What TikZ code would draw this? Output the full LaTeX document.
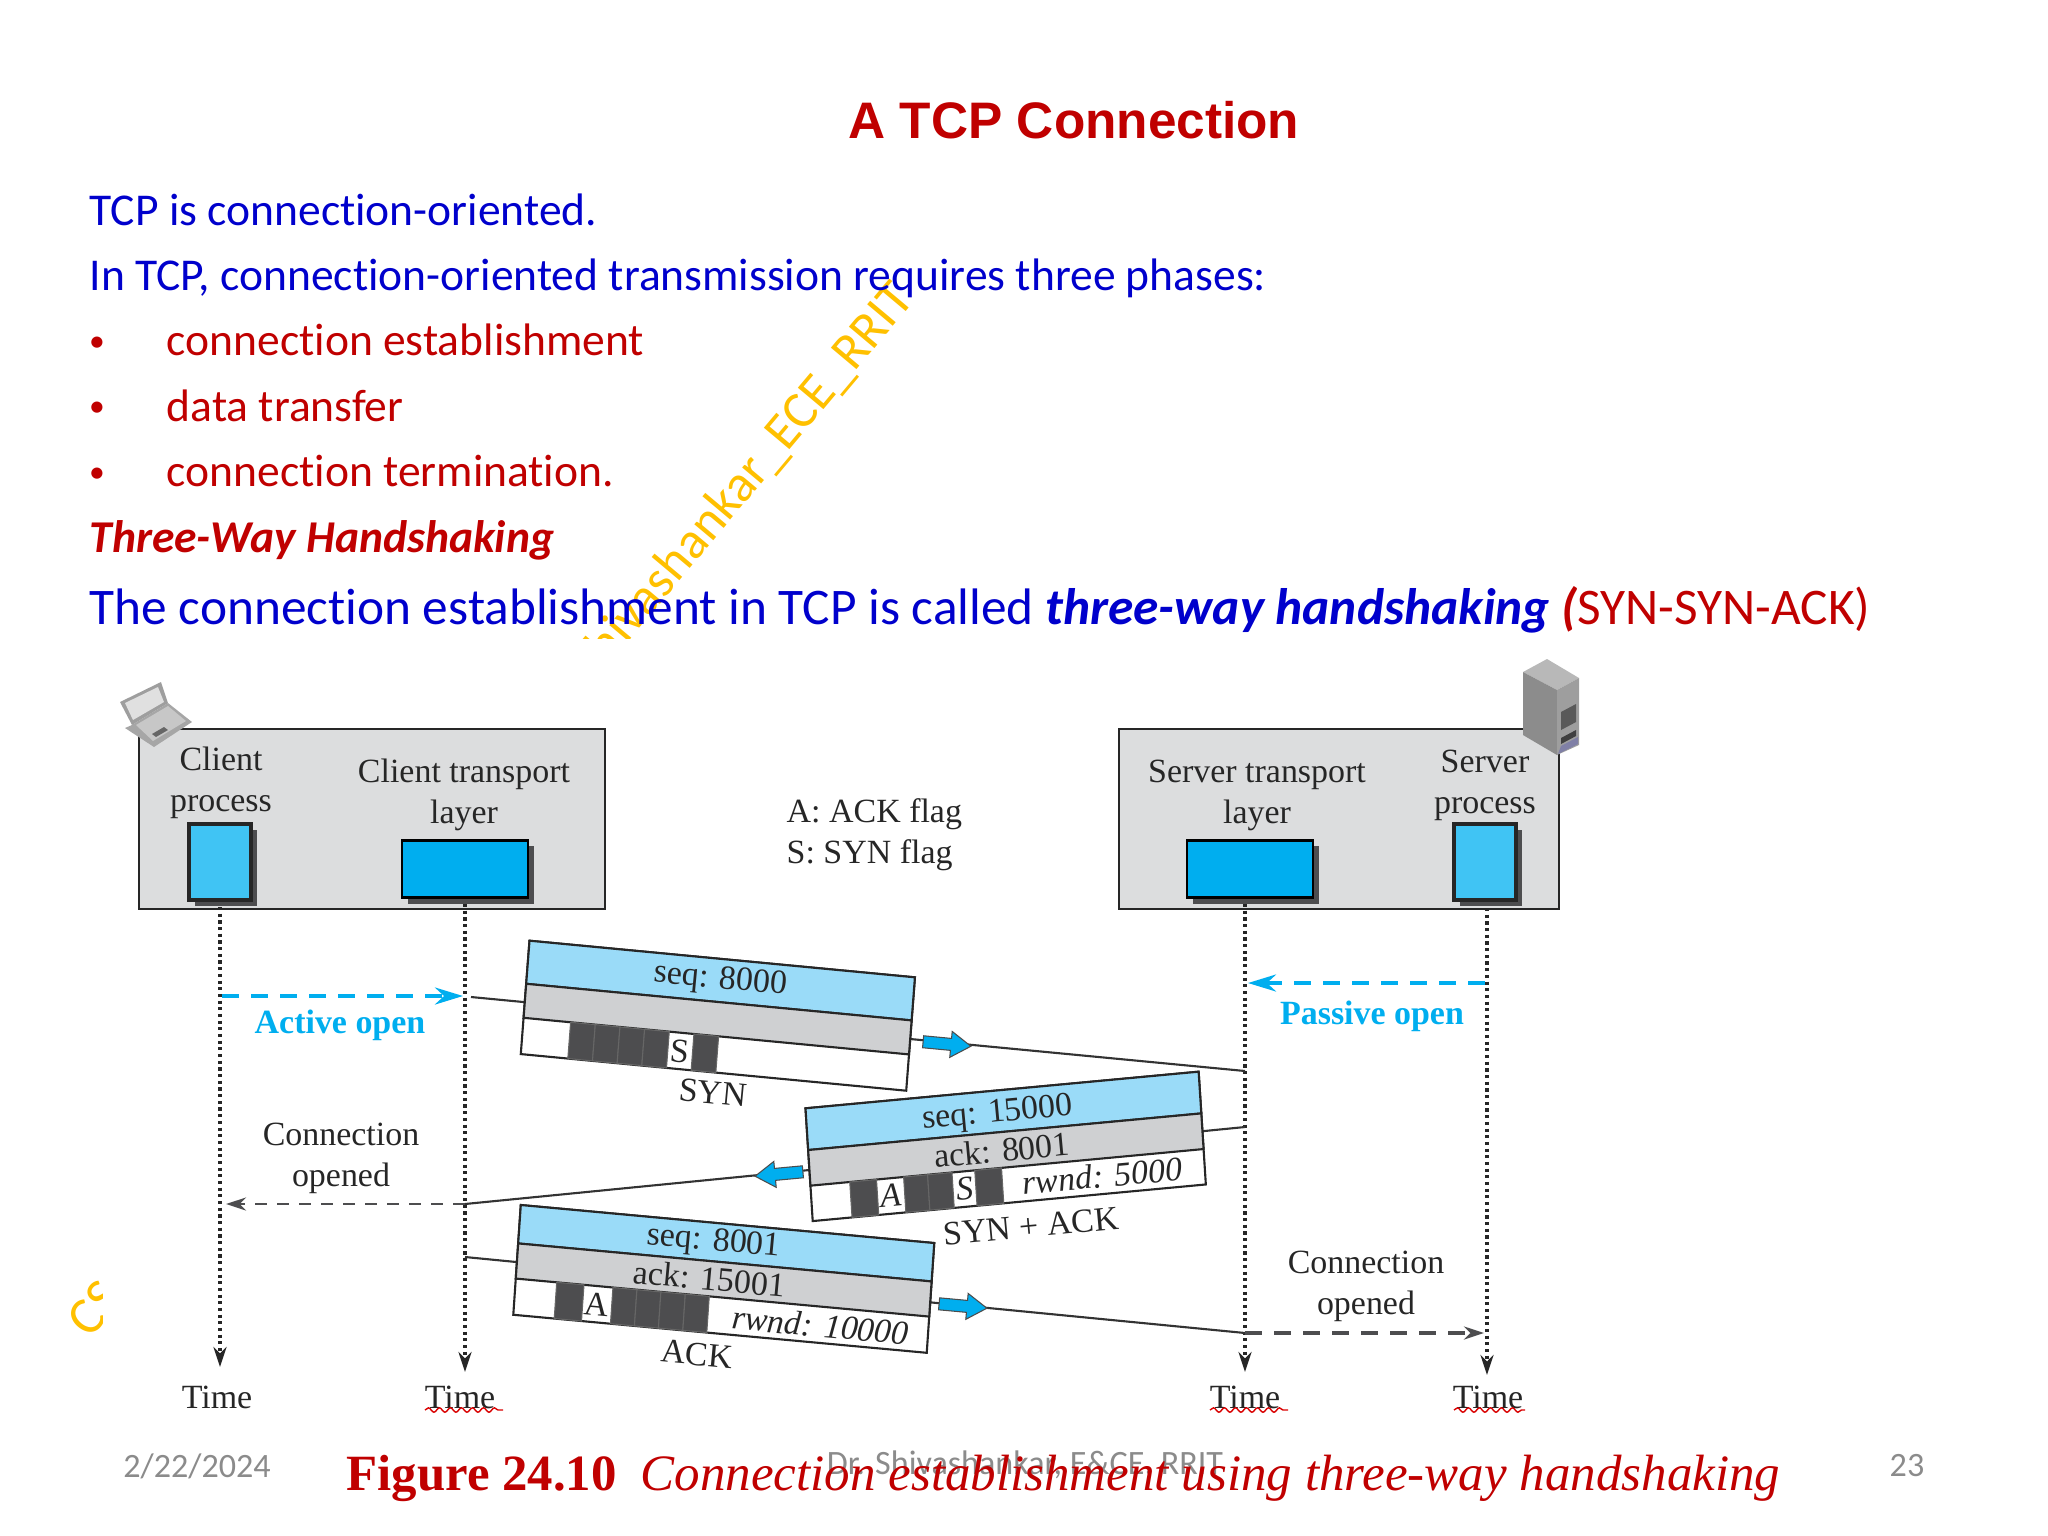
\documentclass[tikz,border=0pt]{standalone}
\usepackage{fontspec}
\setmainfont{Carlito}[Ligatures=CommonOff]
\newfontfamily\figfont{Liberation Serif}
\newfontfamily\headfont{Liberation Sans}
\usetikzlibrary{arrows.meta}
\usetikzlibrary{shadows}
\usetikzlibrary{decorations.pathmorphing}
\definecolor{slideblue}{HTML}{0000CC}
\definecolor{slidered}{HTML}{C00000}
\definecolor{wmgold}{HTML}{FFC000}
\definecolor{boxgray}{HTML}{DCDDDE}
\definecolor{rowgray}{HTML}{CFD0D2}
\definecolor{rowblue}{HTML}{9ADBF8}
\definecolor{flagdark}{HTML}{4D4D4F}
\definecolor{cyanfill}{HTML}{00AEEF}
\definecolor{procfill}{HTML}{40C4F4}
\definecolor{footgray}{HTML}{8B8B8B}
\tikzset{
  bodytext/.style={anchor=base west,inner sep=0pt,font=\fontsize{12.95}{15}\selectfont},
  bullettext/.style={anchor=base,inner sep=0pt,text=slidered,font=\fontsize{9}{10}\selectfont},
  figtext/.style={inner sep=0pt,align=center,font=\figfont\fontsize{9.65}{11.7}\selectfont,text=black!85},
  segtext/.style={inner sep=0pt,font=\figfont\fontsize{9.65}{11}\selectfont,text=black!85},
  opentext/.style={inner sep=0pt,font=\figfont\bfseries\fontsize{9.65}{11}\selectfont,text=cyanfill},
  foottext/.style={inner sep=0pt,font=\fontsize{9.7}{11}\selectfont,text=footgray},
  hostbox/.style={draw=black!85,line width=.8pt,fill=boxgray},
  layerbox/.style={draw=black,line width=.6pt,fill=cyanfill,inner sep=0pt,minimum width=1.26cm,minimum height=.57cm,
    drop shadow={shadow xshift=.06cm,shadow yshift=-.06cm,fill=flagdark,opacity=1}},
  procbox/.style={draw=black!85,line width=1.1pt,fill=procfill,inner sep=0pt,minimum width=.62cm,minimum height=.76cm,
    drop shadow={shadow xshift=.06cm,shadow yshift=-.06cm,fill=flagdark,opacity=1}},
  lifeline/.style={densely dotted,line width=.9pt,black!85,-{Stealth[length=.2cm,width=.13cm]}},
  openarrow/.style={cyanfill,line width=1.1pt,dash pattern=on .17cm off .12cm,-{Stealth[length=.28cm,width=.17cm]}},
  donearrow/.style={flagdark,line width=1.1pt,dash pattern=on .17cm off .12cm,-{Stealth[length=.2cm,width=.13cm]}},
  segline/.style={line width=.6pt,black!80},
  segframe/.style={draw=black!85,line width=.6pt},
  flagcell/.style={fill=flagdark,draw=black!60,line width=.3pt},
  blockarrow/.pic={\filldraw[draw=black!70,line width=.3pt,fill=cyanfill] (-24,-6) -- (4,-6) -- (4,-13) -- (24,0) -- (4,13) -- (4,6) -- (-24,6) -- cycle;},
  squiggle/.style={red!85!black,line width=.4pt,decorate,decoration={snake,amplitude=.022cm,segment length=.11cm}}
}
\begin{document}
\begin{tikzpicture}[x=.01cm,y=-.01cm]
\useasboundingbox (0,0) rectangle (2048,1536);
% watermark
\begin{scope}
\clip (500,275) rectangle (1000,638);
\node[inner sep=0pt,rotate=50,anchor=east,text=wmgold,font=\fontsize{14.8}{18}\selectfont] (wmark) at (905,290) {Dr. Shivashankar\_ECE\_RRIT};
\end{scope}
\begin{scope}
\clip (50,1270) rectangle (102,1350);
\node[inner sep=0pt,rotate=50,anchor=west,text=wmgold,font=\fontsize{15}{18}\selectfont] (wmarkb) at (77,1329) {CS};
\end{scope}
% heading and text
\node[inner sep=0pt,text=slidered,font=\headfont\bfseries\fontsize{14.6}{16}\selectfont] (title) at (1074,120) {A TCP Connection};
\node[bodytext,text=slideblue] (lineone) at (89,225) {TCP is connection-oriented.};
\node[bodytext,text=slideblue] (linetwo) at (89,290) {In TCP, connection-oriented transmission requires three phases:};
\node[bullettext] (bulla) at (97,351) {•};
\node[bodytext,text=slidered] (phasea) at (166,355) {connection establishment};
\node[bullettext] (bullb) at (97,416) {•};
\node[bodytext,text=slidered] (phaseb) at (166,421) {data transfer};
\node[bullettext] (bullc) at (97,482) {•};
\node[bodytext,text=slidered] (phasec) at (166,486) {connection termination.};
\node[bodytext,text=slidered] (hand) at (89,552) {\bfseries\itshape Three-Way Handshaking};
\node[anchor=base west,inner sep=0pt,text=slideblue,font=\fontsize{14.6}{16}\selectfont] (lastline) at (89,624)
  {The connection establishment in TCP is called \textbf{\textit{three-way handshaking}} \textcolor{slidered}{\textbf{\textit{(}}SYN-SYN-ACK)}};
% client and server boxes
\draw[hostbox] (139,729) rectangle (605,909);
\draw[hostbox] (1119,729) rectangle (1559,909);
\node[procbox] (clientproc) at (220,862) {};
\node[layerbox] (clientlayer) at (465,869) {};
\node[layerbox] (serverlayer) at (1250,869) {};
\node[procbox] (serverproc) at (1485,862) {};
\node[figtext] (clientproclabel) at (221,783) {Client\\process};
\node[figtext] (clientlayerlabel) at (464,795) {Client transport\\layer};
\node[figtext] (serverlayerlabel) at (1257,795) {Server transport\\layer};
\node[figtext] (serverproclabel) at (1485,785) {Server\\process};
\node[figtext,align=left,anchor=west] (flagkey) at (786,835) {A: ACK flag\\S: SYN flag};
% laptop
\fill[black!35] (132,725) -- (168,703) -- (192,722) -- (154,747) -- (125,728) -- cycle;
\fill[black!22] (136,725) -- (168,706) -- (186,721) -- (153,741) -- cycle;
\fill[black!60] (152,734) -- (164,727) -- (168,730) -- (156,737) -- cycle;
\fill[black!38] (120,702) -- (161,682) -- (168,703) -- (132,725) -- cycle;
\fill[black!12] (125,703) -- (158,687) -- (164,702) -- (133,720) -- cycle;
% server
\fill[black!28] (1523,672) -- (1547,659) -- (1579,678) -- (1557,690) -- cycle;
\fill[black!45] (1523,672) -- (1557,690) -- (1557,755) -- (1523,735) -- cycle;
\fill[black!38] (1557,690) -- (1579,678) -- (1579,745) -- (1557,755) -- cycle;
\fill[black!65] (1561,712) -- (1576,704) -- (1576,722) -- (1561,730) -- cycle;
\fill[black!75] (1561,738) -- (1576,730) -- (1576,736) -- (1561,744) -- cycle;
\fill[blue!30!black!50] (1561,746) -- (1578,737) -- (1578,744) -- (1558,754) -- cycle;
% life lines
\coordinate (clientend) at (220,1367);
\coordinate (clientlayerend) at (465,1372);
\coordinate (serverlayerend) at (1245,1372);
\coordinate (serverend) at (1487,1375);
\draw[lifeline] (220,907) -- (clientend);
\draw[lifeline] (465,904) -- (clientlayerend);
\draw[lifeline] (1245,904) -- (serverlayerend);
\draw[lifeline] (1487,908) -- (serverend);
% open arrows
\coordinate (activea) at (222,996);
\coordinate (activeb) at (463,996);
\coordinate (passivea) at (1485,983);
\coordinate (passiveb) at (1248,983);
\draw[openarrow] (activea) -- (activeb);
\draw[openarrow] (passivea) -- (passiveb);
\node[opentext] (activelabel) at (340,1025) {Active open};
\node[opentext] (passivelabel) at (1372,1016) {Passive open};
% SYN
\coordinate (syna) at (471,997);
\coordinate (synb) at (1245,1071);
\draw[segline] (syna) -- (synb);
\begin{scope}[shift={(529.5,940.7)},x={(3.852cm,-.366cm)},y={(-.087cm,-1.133cm)}]
\filldraw[segframe,fill=white] (0,0) -- (1,0) -- (1,1) -- (0,1) -- cycle;
\filldraw[segframe,fill=rowblue] (0,0) -- (1,0) -- (1,.38) -- (0,.38) -- cycle;
\filldraw[segframe,fill=rowgray] (0,.38) -- (1,.38) -- (1,.68) -- (0,.68) -- cycle;
\foreach \i/\j in {.122/.186,.186/.25,.25/.314,.314/.378,.442/.506}
  \draw[flagcell] (\i,.68) -- (\j,.68) -- (\j,1) -- (\i,1) -- cycle;
\node[segtext,rotate=-5.4] (synseq) at (.5,.19) {seq: 8000};
\node[segtext,rotate=-5.4] (synflag) at (.41,.84) {S};
\end{scope}
\node[segtext,rotate=-5.4] (synlabel) at (713,1093) {SYN};
\pic[rotate=-5.4] (synarrow) at (947,1044) {blockarrow};
% SYN + ACK
\coordinate (synacka) at (1245,1127);
\coordinate (synackb) at (465,1204);
\draw[segline] (synacka) -- (synackb);
\begin{scope}[shift={(805.5,1108.3)},x={(3.929cm,.366cm)},y={(.072cm,-1.127cm)}]
\filldraw[segframe,fill=white] (0,0) -- (1,0) -- (1,1) -- (0,1) -- cycle;
\filldraw[segframe,fill=rowblue] (0,0) -- (1,0) -- (1,.37) -- (0,.37) -- cycle;
\filldraw[segframe,fill=rowgray] (0,.37) -- (1,.37) -- (1,.686) -- (0,.686) -- cycle;
\foreach \i/\j in {.10/.168,.237/.298,.298/.36,.418/.486}
  \draw[flagcell] (\i,.686) -- (\j,.686) -- (\j,1) -- (\i,1) -- cycle;
\node[segtext,rotate=5.3] (ackseq) at (.485,.21) {seq: 15000};
\node[segtext,rotate=5.3] (ackack) at (.49,.53) {ack: 8001};
\node[segtext,rotate=5.3] (ackflaga) at (.202,.84) {\itshape A};
\node[segtext,rotate=5.3] (ackflagb) at (.389,.84) {\itshape S};
\node[segtext,rotate=5.3] (ackwnd) at (.74,.84) {\itshape rwnd: 5000};
\end{scope}
\node[segtext,rotate=5.3] (synacklabel) at (1031,1226) {SYN + ACK};
\pic[rotate=185.3] (synackarrow) at (779,1174) {blockarrow};
\draw[donearrow,line width=.8pt,dash pattern=on .12cm off .1cm] (synackb) -- (226,1204);
\node[figtext] (openleft) at (341,1158) {Connection\\opened};
% ACK
\coordinate (acka) at (465,1257);
\coordinate (ackb) at (1245,1333);
\draw[segline] (acka) -- (ackb);
\begin{scope}[shift={(520.8,1205)},x={(4.132cm,-.38cm)},y={(-.075cm,-1.097cm)}]
\filldraw[segframe,fill=white] (0,0) -- (1,0) -- (1,1) -- (0,1) -- cycle;
\filldraw[segframe,fill=rowblue] (0,0) -- (1,0) -- (1,.35) -- (0,.35) -- cycle;
\filldraw[segframe,fill=rowgray] (0,.35) -- (1,.35) -- (1,.67) -- (0,.67) -- cycle;
\foreach \i/\j in {.099/.165,.235/.293,.293/.351,.351/.41,.41/.468}
  \draw[flagcell] (\i,.67) -- (\j,.67) -- (\j,1) -- (\i,1) -- cycle;
\node[segtext,rotate=-5.25] (finseq) at (.47,.18) {seq: 8001};
\node[segtext,rotate=-5.25] (finack) at (.465,.51) {ack: 15001};
\node[segtext,rotate=-5.25] (finflag) at (.2,.84) {A};
\node[segtext,rotate=-5.25] (finwnd) at (.74,.84) {\itshape rwnd: 10000};
\end{scope}
\node[segtext,rotate=-5.25] (acklabel) at (697,1354) {ACK};
\pic[rotate=-5.25] (ackarrow) at (963,1306) {blockarrow};
\draw[donearrow] (ackb) -- (1484,1333);
\node[figtext] (openright) at (1366,1286) {Connection\\opened};
% time labels
\node[segtext] (timea) at (217,1397) {Time};
\node[segtext] (timeb) at (460,1397) {Time};
\node[segtext] (timec) at (1245,1397) {Time};
\node[segtext] (timed) at (1488,1397) {Time};
\coordinate (wavya) at (425,1410);
\coordinate (wavyb) at (503,1410);
\coordinate (wavyc) at (1210,1410);
\coordinate (wavyd) at (1288,1410);
\coordinate (wavye) at (1454,1410);
\coordinate (wavyf) at (1525,1410);
\draw[squiggle] (wavya) -- (wavyb);
\draw[squiggle] (wavyc) -- (wavyd);
\draw[squiggle] (wavye) -- (wavyf);
% footer
\node[foottext] (footdate) at (197,1466) {2/22/2024};
\node[foottext] (footname) at (1025,1465) {Dr. Shivashankar, E\&CE, RRIT};
\node[foottext] (footpage) at (1907,1466) {23};
\node[anchor=base west,inner sep=0pt,text=slidered,font=\figfont\bfseries\fontsize{14.45}{16}\selectfont] (capa) at (346,1490) {Figure 24.10};
\node[anchor=base west,inner sep=0pt,text=slidered,font=\figfont\itshape\fontsize{14.5}{16}\selectfont] (capb) at (640,1490) {Connection establishment using three-way handshaking};
\end{tikzpicture}
\end{document}
